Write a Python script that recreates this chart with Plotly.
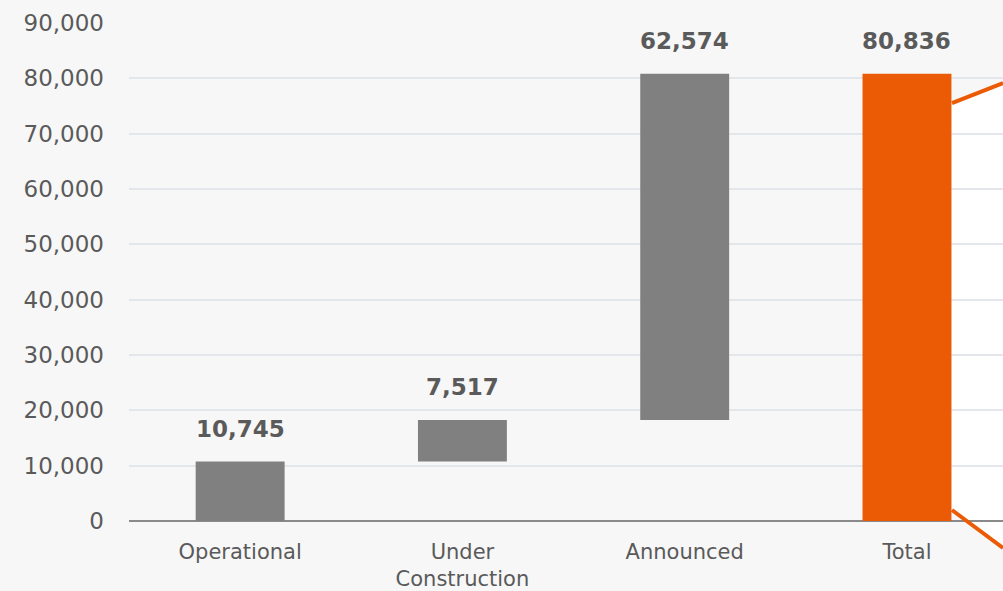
import plotly.graph_objects as go

categories = ["Operational", "Under<br>Construction", "Announced", "Total"]
values = [10745, 7517, 62574, 80836]
measures = ["relative", "relative", "relative", "total"]
labels = ["10,745", "7,517", "62,574", "80,836"]
tick_vals = [0, 10000, 20000, 30000, 40000, 50000, 60000, 70000, 80000, 90000]

GREY = "#808080"
ORANGE = "#EB5B05"
TEXT = "#5a5a5a"
FONT = "DejaVu Sans"

fig = go.Figure()
fig.add_trace(go.Waterfall(
    x=categories,
    y=[v if m == "relative" else 0 for v, m in zip(values, measures)],
    measure=measures,
    increasing=dict(marker=dict(color=GREY)),
    decreasing=dict(marker=dict(color=GREY)),
    totals=dict(marker=dict(color=ORANGE)),
    connector=dict(visible=False),
    width=0.4,
    hoverinfo="skip",
))

# value labels above each bar top
running = 0
for cat, v, m, lab in zip(categories, values, measures, labels):
    top = v if m == "total" else running + v
    if m == "relative":
        running += v
    fig.add_annotation(x=cat, y=top, text=f"<b>{lab}</b>", showarrow=False,
                       yanchor="bottom", yshift=18,
                       font=dict(family=FONT, size=23, color=TEXT))

# decorative funnel to the right of the total bar (paper coordinates)
fig.add_shape(type="path", xref="paper", yref="paper", layer="below",
              path="M 0.9416,0.839 L 1.0,0.8795 L 1.0,-0.0542 L 0.9416,0.0221 Z",
              fillcolor="white", line=dict(width=0))
fig.add_shape(type="line", xref="paper", yref="paper", layer="above",
              x0=0.9416, y0=0.839, x1=1.0, y1=0.8795,
              line=dict(color=ORANGE, width=4))
fig.add_shape(type="line", xref="paper", yref="paper", layer="above",
              x0=0.9416, y0=0.0221, x1=1.0, y1=-0.0542,
              line=dict(color=ORANGE, width=4))

fig.update_layout(
    width=1003, height=591,
    margin=dict(l=129, r=0, t=23, b=70),
    paper_bgcolor="#f7f7f7",
    plot_bgcolor="#f7f7f7",
    showlegend=False,
    font=dict(family=FONT, color=TEXT),
    xaxis=dict(
        range=[-0.5, 3.432],
        showgrid=False,
        showline=False,
        tickfont=dict(family=FONT, size=21, color=TEXT),
        ticks="",
        ticklabelstandoff=16,
        fixedrange=True,
    ),
    yaxis=dict(
        range=[0, 90000],
        tickvals=tick_vals,
        tickformat=",",
        gridcolor="#e3e6ea",
        gridwidth=2,
        zeroline=True,
        zerolinecolor="#8a8a8a",
        zerolinewidth=2,
        tickfont=dict(family=FONT, size=23, color=TEXT),
        ticks="",
        ticklabelstandoff=24,
        fixedrange=True,
    ),
)

fig.write_html("out.html",
               config={"displayModeBar": False},
               post_script="document.body.style.margin='0';document.body.style.padding='0';")
